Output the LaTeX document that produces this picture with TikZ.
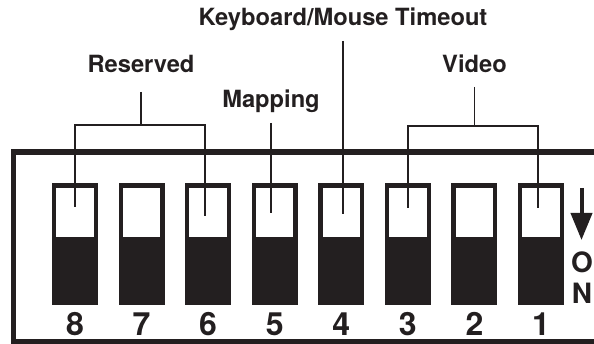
\documentclass[tikz,border=0pt]{standalone}
\usepackage{fontspec}
\setmainfont{TeX Gyre Heros}
\usetikzlibrary{arrows.meta}
\definecolor{ink}{RGB}{35,31,32}

\begin{document}
\begin{tikzpicture}[x=1pt,y=-1pt,
    grouptext/.style={font=\fontsize{23.7}{24}\selectfont\bfseries, text=ink, inner sep=0pt, anchor=base},
    digit/.style={font=\fontsize{32}{32}\selectfont\bfseries, text=ink, inner sep=0pt, anchor=base},
    onletter/.style={font=\fontsize{28}{28}\selectfont\bfseries, text=ink, inner sep=0pt},
    swbody/.style={fill=ink, minimum width=46pt, minimum height=122pt, inner sep=0pt},
    swwindow/.style={fill=white, minimum width=37.4pt, minimum height=48.4pt, inner sep=0pt},
    wire/.style={ink, line width=1.1pt},
    frame/.style={ink, line width=5.5pt}]

    \useasboundingbox (0,0) rectangle (594,344);

    % --------------------------------------------------------- %
    % ------------- housing
    % --------------------------------------------------------- %
    \draw[frame] (600,152) -| (13.5,341.5) -- (600,341.5);

    % --------------------------------------------------------- %
    % ------------- switches 8 ... 1
    % --------------------------------------------------------- %
    \foreach \n in {1,...,8}{
      \pgfmathsetmacro\xpos{75+66.57*(8-\n)}
      \node[swbody] (sw\n) at (\xpos,244) {};
      \node[swwindow] (win\n) at (\xpos,212.5) {};
      \node[digit] (num\n) at (\xpos,335) {\n};
    }

    % --- ON marking
    \coordinate (arrtop) at (581.5,188);
    \coordinate (arrend) at (581.5,240);
    \draw[ink, line width=4pt, -{Triangle[length=27pt,width=21pt]}] (arrtop) -- (arrend);
    \node[onletter] (on-o) at (582,262.5) {O};
    \node[onletter] (on-n) at (582,293.5) {N};

    % --------------------------------------------------------- %
    % ------------- group labels
    % --------------------------------------------------------- %
    \node[grouptext] (kbd) at (343,26) {Keyboard/Mouse Timeout};
    \node[grouptext] (reserved) at (141,73) {Reserved};
    \node[grouptext] (mapping) at (271,108) {Mapping};
    \node[grouptext] (video) at (474.5,73) {Video};

    % --- ends of the leader lines in the windows
    \coordinate (t8) at (75,207);
    \coordinate (t6) at (205,216);
    \coordinate (t5) at (271,213);
    \coordinate (t4) at (343,214);
    \coordinate (t3) at (408,208);
    \coordinate (t1) at (538,208);
    \coordinate (rjoin) at (141,125);
    \coordinate (vjoin) at (474.5,126);

    % --- Reserved bracket
    \draw[wire] ([yshift=-19pt]reserved.base) -- (rjoin);
    \draw[wire] (t8) |- (rjoin) -| (t6);
    % --- Mapping
    \draw[wire] ([yshift=-15pt]mapping.base) -- (t5);
    % --- Keyboard/Mouse Timeout
    \draw[wire] ([yshift=-15pt]kbd.base) -- (t4);
    % --- Video bracket
    \draw[wire] ([yshift=-14pt]video.base) -- (vjoin);
    \draw[wire] (t3) |- (vjoin) -| (t1);

\end{tikzpicture}
\end{document}
